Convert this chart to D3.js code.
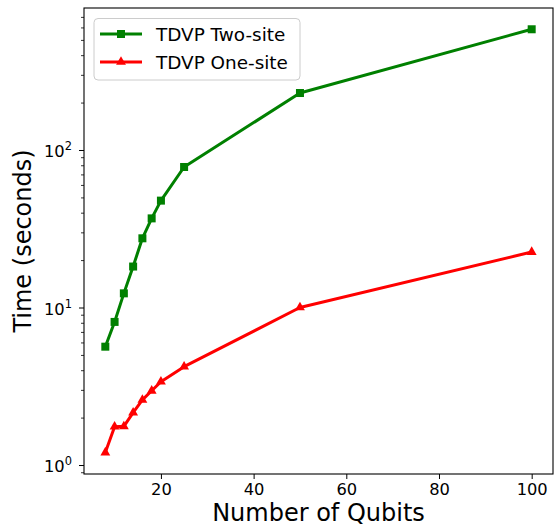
<!DOCTYPE html>
<html>
<head>
<meta charset="utf-8">
<script src="https://cdn.jsdelivr.net/npm/d3@7"></script>
<style>
  html, body { margin: 0; padding: 0; background: #fff; }
  svg { display: block; font-family: "DejaVu Sans", sans-serif; }
</style>
</head>
<body>
<svg id="chart" width="555" height="527"></svg>
<script>
const qubits = [8, 10, 12, 14, 16, 18, 20, 25, 50, 100];
const twoSite = [5.64, 8.1, 12.3, 18.2, 27.5, 36.8, 47.7, 78.0, 230, 584];
const oneSite = [1.2, 1.75, 1.76, 2.15, 2.59, 2.96, 3.38, 4.21, 10.0, 22.5];
const xTicks = [20, 40, 60, 80, 100];
const yTicks = [1, 10, 100];
const yTickExp = ["0", "1", "2"];
const seriesNames = ["TDVP Two-site", "TDVP One-site"];

const svg = d3.select("#chart");
const L = 84, R = 553, T = 8, B = 474;

const x = d3.scaleLinear().domain([3.4, 104.6]).range([L, R]);
const y = d3.scaleLog().domain([0.877, 797]).range([B, T]);

// minor ticks on y
const minor = [];
for (let d = 0.1; d <= 1000; d *= 10) {
  for (let k = 2; k <= 9; k++) {
    const v = +(d * k).toPrecision(3);
    if (v >= 0.877 && v <= 797) minor.push(v);
  }
}

const fontTick = 16.3;

// x axis
const gx = svg.append("g").attr("transform", `translate(0,${B})`)
  .call(d3.axisBottom(x).tickValues(xTicks).tickSize(5).tickPadding(4).tickFormat(d3.format("d")));
gx.select(".domain").remove();
gx.selectAll("line").attr("stroke", "#000").attr("stroke-width", 1);
gx.selectAll("text").attr("font-size", fontTick).attr("fill", "#000")
  .attr("font-family", "DejaVu Sans");

// y axis major
const gy = svg.append("g").attr("transform", `translate(${L},0)`)
  .call(d3.axisLeft(y).tickValues(yTicks).tickSize(5).tickPadding(4).tickFormat(() => ""));
gy.select(".domain").remove();
gy.selectAll("line").attr("stroke", "#000").attr("stroke-width", 1);
gy.selectAll("text").each(function(d, i) {
  const t = d3.select(this);
  t.attr("font-size", fontTick).attr("fill", "#000").attr("font-family", "DejaVu Sans")
   .attr("dy", "0.42em").attr("x", -12);
  t.append("tspan").text("10");
  t.append("tspan").attr("font-size", fontTick * 0.7).attr("dy", "-0.62em").text(yTickExp[i]);
});

// y axis minor
const gym = svg.append("g").attr("transform", `translate(${L},0)`)
  .call(d3.axisLeft(y).tickValues(minor).tickSize(3).tickFormat(() => ""));
gym.select(".domain").remove();
gym.selectAll("line").attr("stroke", "#000").attr("stroke-width", 0.8);

// frame
svg.append("rect").attr("x", L).attr("y", T).attr("width", R - L).attr("height", B - T)
  .attr("fill", "none").attr("stroke", "#000").attr("stroke-width", 1.1);

// lines
const line = d3.line().x((d, i) => x(qubits[i])).y(d => y(d));
svg.append("defs").append("clipPath").attr("id", "clip")
  .append("rect").attr("x", L).attr("y", T).attr("width", R - L).attr("height", B - T);

const plot = svg.append("g").attr("clip-path", "url(#clip)");

plot.append("path").datum(twoSite).attr("d", line)
  .attr("fill", "none").attr("stroke", "#008000").attr("stroke-width", 3).attr("stroke-linejoin", "round");
plot.append("path").datum(oneSite).attr("d", line)
  .attr("fill", "none").attr("stroke", "#ff0000").attr("stroke-width", 3).attr("stroke-linejoin", "round");

const sq = 8;
plot.selectAll(".sq").data(twoSite).enter().append("rect")
  .attr("x", (d, i) => x(qubits[i]) - sq / 2).attr("y", d => y(d) - sq / 2)
  .attr("width", sq).attr("height", sq).attr("fill", "#008000");

const tri = d3.symbol().type(d3.symbolTriangle).size(42);
plot.selectAll(".tri").data(oneSite).enter().append("path")
  .attr("d", tri)
  .attr("transform", (d, i) => `translate(${x(qubits[i])},${y(d)})`)
  .attr("fill", "#ff0000");

// axis labels
svg.append("text").attr("x", (L + R) / 2).attr("y", 521)
  .attr("text-anchor", "middle").attr("font-size", 24).attr("fill", "#000")
  .text("Number of Qubits");
svg.append("text").attr("transform", `translate(31,${(T + B) / 2}) rotate(-90)`)
  .attr("text-anchor", "middle").attr("font-size", 24).attr("fill", "#000")
  .text("Time (seconds)");

// legend
const lg = svg.append("g");
lg.append("rect").attr("x", 94).attr("y", 18.5).attr("width", 206).attr("height", 61.5)
  .attr("rx", 4).attr("fill", "#fff").attr("fill-opacity", 0.8)
  .attr("stroke", "#cccccc").attr("stroke-width", 1);
const ly = [34, 62];
const colors = ["#008000", "#ff0000"];
seriesNames.forEach((name, i) => {
  lg.append("line").attr("x1", 100).attr("x2", 142).attr("y1", ly[i]).attr("y2", ly[i])
    .attr("stroke", colors[i]).attr("stroke-width", 3);
  if (i === 0) {
    lg.append("rect").attr("x", 121 - sq / 2).attr("y", ly[i] - sq / 2)
      .attr("width", sq).attr("height", sq).attr("fill", colors[i]);
  } else {
    lg.append("path").attr("d", tri).attr("transform", `translate(121,${ly[i]})`)
      .attr("fill", colors[i]);
  }
  lg.append("text").attr("x", 156).attr("y", ly[i]).attr("dy", "0.36em")
    .attr("font-size", 18.4).attr("fill", "#000").text(name);
});
</script>
</body>
</html>
